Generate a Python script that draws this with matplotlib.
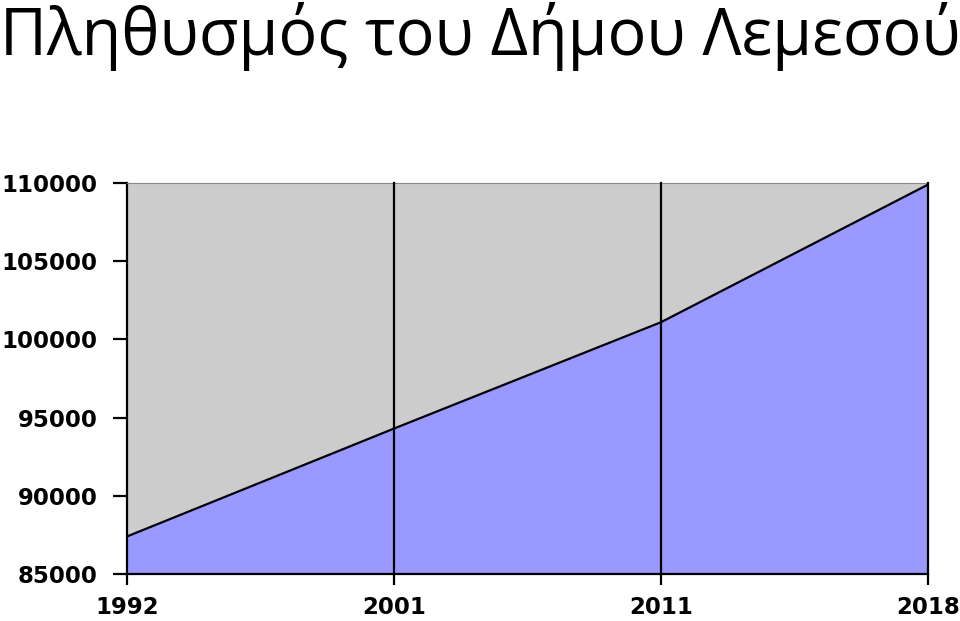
import matplotlib.pyplot as plt

years = ["1992", "2001", "2011", "2018"]
population = [87400, 94300, 101100, 109900]
yticks = [85000, 90000, 95000, 100000, 105000, 110000]

fig = plt.figure(figsize=(9.6, 6.21), dpi=100)
ax = fig.add_axes([0.1323, 0.0757, 0.8344, 0.6296])

x = range(len(years))
ax.set_facecolor("#cccccc")
ax.fill_between(x, 85000, population, color="#9999ff", zorder=2)
ax.plot(x, population, color="black", lw=1.6, zorder=3)
for xi in x[1:]:
    ax.axvline(xi, color="black", lw=1.6, zorder=4, clip_on=False)

ax.set_xlim(0, len(years) - 1)
ax.set_ylim(85000, 110000)
ax.set_xticks(list(x))
ax.set_xticklabels(years)
ax.set_yticks(yticks)
ax.set_yticklabels([str(v) for v in yticks])

for lab in ax.get_xticklabels() + ax.get_yticklabels():
    lab.set_fontweight("bold")
    lab.set_fontsize(16.5)
    lab.set_family("DejaVu Sans")
ax.tick_params(axis="y", length=10, width=1.6, pad=11)
ax.tick_params(axis="x", length=8, width=1.6, pad=8)

ax.spines["top"].set_color("#888888")
ax.spines["right"].set_visible(False)
ax.spines["left"].set_linewidth(1.6)
ax.spines["bottom"].set_linewidth(1.6)

fig.text(0.0, 0.997, "Πληθυσμός του Δήμου Λεμεσού", fontsize=46.5,
         family="Open Sans", va="top", ha="left")

fig.savefig("out.png", dpi=100)
